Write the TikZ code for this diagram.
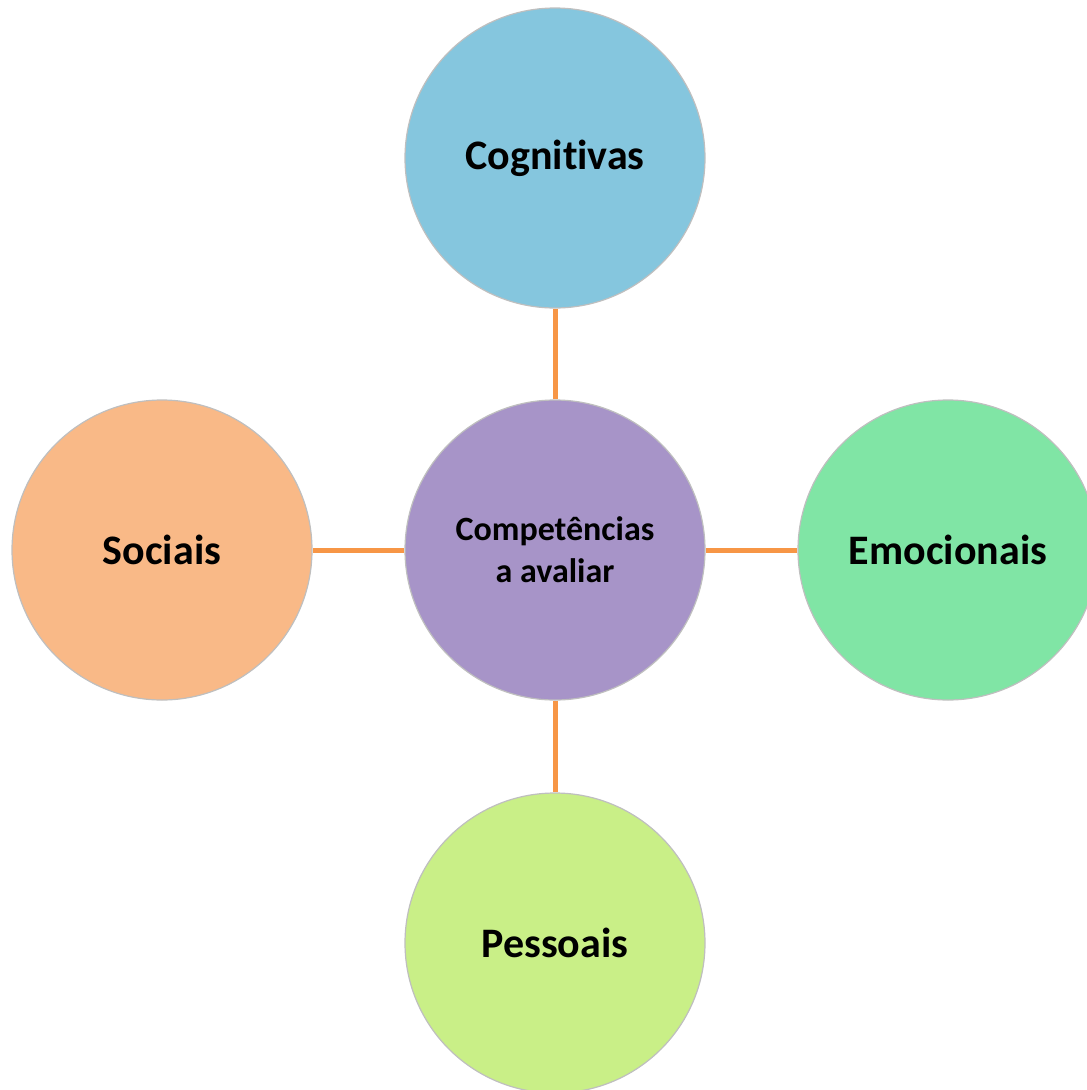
\documentclass[tikz,border=0pt]{standalone}
\usepackage{fontspec}
\setmainfont{Carlito}[Ligatures=NoCommon]
\usetikzlibrary{positioning}
\definecolor{cogblue}{HTML}{85C6DE}
\definecolor{centpurple}{HTML}{A794C8}
\definecolor{emogreen}{HTML}{80E5A5}
\definecolor{socorange}{HTML}{F9B987}
\definecolor{peslime}{HTML}{C9EF87}
\definecolor{linkorange}{HTML}{F79646}
\tikzset{skill/.style={circle, minimum size=300pt, inner sep=0pt, draw=black!25, line width=1.2pt,
  font=\fontsize{42}{50}\selectfont\bfseries, align=center}}
\tikzset{link/.style={draw=linkorange, line width=5pt}}

\begin{document}
\begin{tikzpicture}[x=1pt, y=-1pt]
\useasboundingbox (0,0) rectangle (1087,1090);
\node[skill, fill=centpurple, font=\fontsize{34}{42}\selectfont\bfseries] (centro) at (555,550) {Competências\\a avaliar};
\node[skill, fill=cogblue] (cog) at (555,158) {Cognitivas};
\node[skill, fill=emogreen] (emo) at (948,550) {Emocionais};
\node[skill, fill=peslime] (pes) at (555,943) {Pessoais};
\node[skill, fill=socorange] (soc) at (162,550) {Sociais};
\foreach \n in {cog,emo,pes,soc} {
 \draw[link] (centro) -- (\n);
}
\end{tikzpicture}
\end{document}
